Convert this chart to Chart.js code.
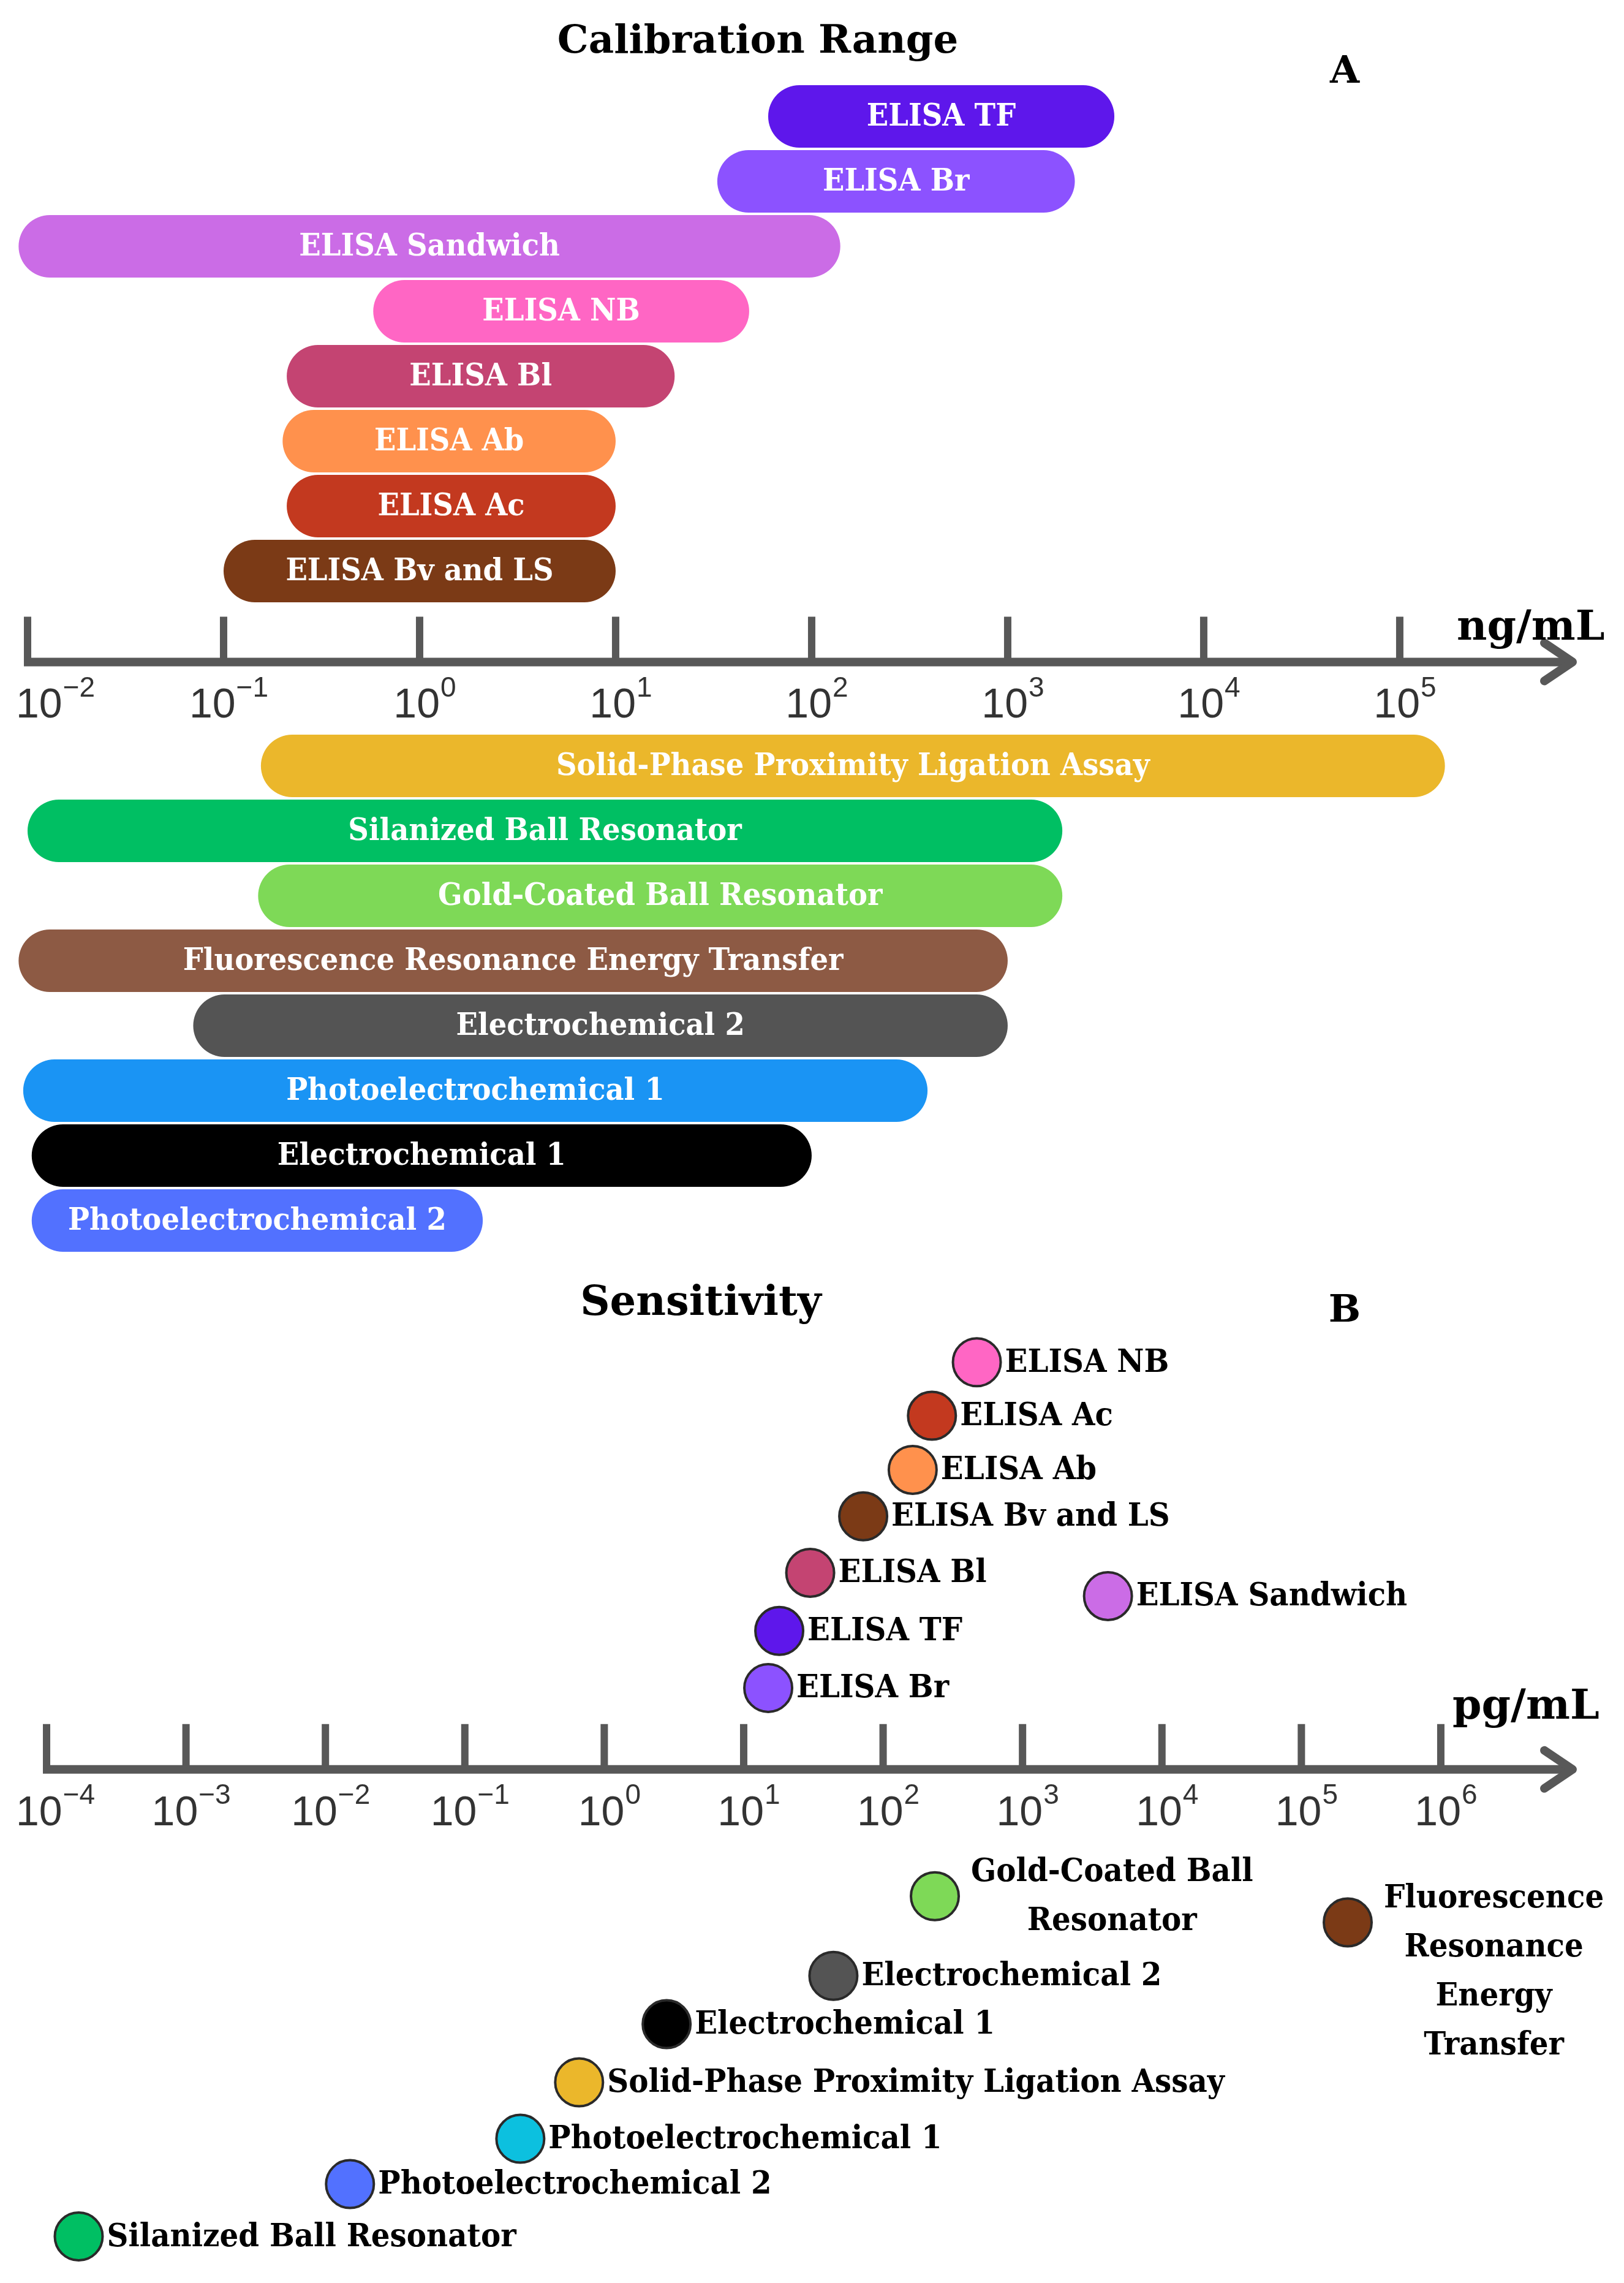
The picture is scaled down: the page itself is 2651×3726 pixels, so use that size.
<!DOCTYPE html>
<html>

<head>
    <title>Calibration Range and Sensitivity</title>
    <meta name="viewport" content="width=device-width, initial-scale=1.0">
    <script src="https://cdn.jsdelivr.net/npm/chart.js"></script>
    <style type="text/css">
        body {
            margin: 0;
            width: 2651px;
            height: 3726px;
            overflow: hidden;
            background: #fff;
            position: relative;
            font-family: "DejaVu Serif", serif;
        }

        .box {
            position: absolute;
            left: 0;
            width: 2651px;
        }

        #topBox {
            top: 0;
            height: 2045px;
        }

        #bottomBox {
            top: 2060px;
            height: 1666px;
        }

        .lbl {
            position: absolute;
            font-weight: bold;
            color: #000;
            line-height: 1;
            white-space: nowrap;
            transform: translate(-50%, -50%);
        }

        .unit {
            position: absolute;
            font-weight: bold;
            color: #000;
            line-height: 1;
            white-space: nowrap;
            transform: translate(0, -50%);
            font-size: 68px;
        }
    </style>
</head>

<body>
    <div class="box" id="topBox"><canvas id="rangeChart"></canvas></div>
    <div class="box" id="bottomBox"><canvas id="sensChart"></canvas></div>

    <div class="lbl" style="left:1237px; top:64px; font-size:64px;">Calibration Range</div>
    <div class="lbl" style="left:2195px; top:114px; font-size:62px;">A</div>
    <div class="unit" style="left:2378px; top:1020px;">ng/mL</div>

    <div class="lbl" style="left:1144px; top:2122px; font-size:67px;">Sensitivity</div>
    <div class="lbl" style="left:2195px; top:2136px; font-size:62px;">B</div>
    <div class="unit" style="left:2371px; top:2781px;">pg/mL</div>

    <script>
        // A: calibration range (ng/mL), listed top to bottom
        const aboveNames = ['ELISA TF', 'ELISA Br', 'ELISA Sandwich', 'ELISA NB', 'ELISA Bl', 'ELISA Ab', 'ELISA Ac', 'ELISA Bv and LS'];
        const aboveLow = [60, 33, 0.009, 0.58, 0.21, 0.2, 0.21, 0.1];
        const aboveHigh = [3500, 2200, 140, 48, 20, 10, 10, 10];
        const aboveColors = ['#5E17EB', '#8C52FF', '#CB6CE6', '#FF66C4', '#C44472', '#FF914D', '#C3391F', '#7B3A16'];

        const belowNames = ['Solid-Phase Proximity Ligation Assay', 'Silanized Ball Resonator', 'Gold-Coated Ball Resonator',
            'Fluorescence Resonance Energy Transfer', 'Electrochemical 2', 'Photoelectrochemical 1', 'Electrochemical 1', 'Photoelectrochemical 2'];
        const belowLow = [0.155, 0.01, 0.15, 0.009, 0.07, 0.0095, 0.0105, 0.0105];
        const belowHigh = [170000, 1900, 1900, 1000, 1000, 390, 100, 2.1];
        const belowColors = ['#EBB72B', '#00BF63', '#7ED957', '#8D5A44', '#545454', '#1A94F4', '#000000', '#5271FF'];

        const rangeExps = [-2, -1, 0, 1, 2, 3, 4, 5];

        // B: sensitivity (pg/mL)
        const sensNames = ['ELISA NB', 'ELISA Ac', 'ELISA Ab', 'ELISA Bv and LS', 'ELISA Bl', 'ELISA TF', 'ELISA Br', 'ELISA Sandwich',
            'Gold-Coated Ball\nResonator', 'Fluorescence\nResonance\nEnergy\nTransfer', 'Electrochemical 2', 'Electrochemical 1',
            'Solid-Phase Proximity Ligation Assay', 'Photoelectrochemical 1', 'Photoelectrochemical 2', 'Silanized Ball Resonator'];
        const sensValues = [470, 224, 163, 72, 30, 18, 15, 4100, 235, 215000, 44, 2.8, 0.66, 0.25, 0.015, 0.00017];
        const sensLevels = [7.0, 6.08, 5.15, 4.35, 3.38, 2.38, 1.4, 2.98, -2.18, -2.63, -3.55, -4.38, -5.38, -6.35, -7.13, -8.03];
        const sensColors = ['#FF66C4', '#C3391F', '#FF914D', '#7B3A16', '#C44472', '#5E17EB', '#8C52FF', '#CB6CE6',
            '#7ED957', '#7B3A16', '#545454', '#000000', '#EBB72B', '#0CC0DF', '#5271FF', '#00BF63'];

        const sensExps = [-4, -3, -2, -1, 0, 1, 2, 3, 4, 5, 6];

        // rows: methods above the axis, two empty rows for the axis, methods below
        const rowLabels = [...aboveNames, '', '', ...belowNames];
        const rowData = [...aboveLow.map((v, i) => [v, aboveHigh[i]]), null, null, ...belowLow.map((v, i) => [v, belowHigh[i]])];
        const rowColors = [...aboveColors, '#fff', '#fff', ...belowColors];

        const axisGray = '#585858';

        // text squeezed a little horizontally, the figure's serif is narrower than DejaVu
        function squeezeText(ctx, text, x, y, sx) {
            ctx.save();
            ctx.translate(x, y);
            ctx.scale(sx, 1);
            ctx.fillText(text, 0, 0);
            ctx.restore();
        }

        // arrow axis with ticks pointing up and 10^n labels underneath
        const arrowAxis = {
            id: 'arrowAxis',
            afterDraw(chart, args, opts) {
                const ctx = chart.ctx;
                const xs = chart.scales.x;
                const y = chart.scales.y.getPixelForValue(opts.at);
                const px = opts.exps.map(e => xs.getPixelForValue(Math.pow(10, e)));
                ctx.save();
                ctx.strokeStyle = axisGray;
                ctx.lineCap = 'butt';
                ctx.lineWidth = 12;
                px.forEach(x => {
                    ctx.beginPath();
                    ctx.moveTo(x, y);
                    ctx.lineTo(x, y - 74);
                    ctx.stroke();
                });
                ctx.lineWidth = 14;
                ctx.beginPath();
                ctx.moveTo(px[0] - 6, y);
                ctx.lineTo(opts.tip - 6, y);
                ctx.stroke();
                ctx.lineCap = 'round';
                ctx.lineJoin = 'round';
                ctx.beginPath();
                ctx.moveTo(opts.tip - 46, y - 31);
                ctx.lineTo(opts.tip, y);
                ctx.lineTo(opts.tip - 46, y + 31);
                ctx.stroke();

                ctx.fillStyle = '#333';
                ctx.textBaseline = 'middle';
                ctx.textAlign = 'left';
                opts.exps.forEach((e, i) => {
                    const sup = String(e).replace('-', '\u2212');
                    ctx.font = '68px "Liberation Sans"';
                    const wb = ctx.measureText('10').width;
                    ctx.font = '46px "Liberation Sans"';
                    const ws = ctx.measureText(sup).width;
                    // keep the first label inside the page
                    const x0 = Math.max(px[i] - (wb + ws) / 2 + 8, 26);
                    ctx.font = '68px "Liberation Sans"';
                    ctx.fillText('10', x0, y + 72);
                    ctx.font = '46px "Liberation Sans"';
                    ctx.fillText(sup, x0 + wb + 1, y + 44);
                });
                ctx.restore();
            }
        };

        // names written inside the bars
        const barText = {
            id: 'barText',
            afterDatasetsDraw(chart) {
                const ctx = chart.ctx;
                const meta = chart.getDatasetMeta(0);
                ctx.save();
                ctx.fillStyle = '#fff';
                ctx.font = 'bold 50px "DejaVu Serif"';
                ctx.textAlign = 'center';
                ctx.textBaseline = 'middle';
                meta.data.forEach((bar, i) => {
                    if (!rowLabels[i]) return;
                    squeezeText(ctx, rowLabels[i], (bar.x + bar.base) / 2, bar.y + 2, 0.93);
                });
                ctx.restore();
            }
        };

        // names written to the right of the points
        const pointText = {
            id: 'pointText',
            afterDatasetsDraw(chart) {
                const ctx = chart.ctx;
                const meta = chart.getDatasetMeta(0);
                const r = 39;
                const lineH = 80;
                const sx = 0.93;
                ctx.save();
                ctx.fillStyle = '#000';
                ctx.font = 'bold 52px "DejaVu Serif"';
                ctx.textBaseline = 'middle';
                meta.data.forEach((pt, i) => {
                    const lines = sensNames[i].split('\n');
                    if (lines.length === 1) {
                        ctx.textAlign = 'left';
                        squeezeText(ctx, lines[0], pt.x + r + 7, pt.y + 2, sx);
                    } else {
                        const w = Math.max(...lines.map(s => ctx.measureText(s).width)) * sx;
                        const cx = pt.x + r + 20 + w / 2;
                        ctx.textAlign = 'center';
                        lines.forEach((s, k) => squeezeText(ctx, s, cx, pt.y - lineH / 2 + k * lineH + 2, sx));
                    }
                });
                ctx.restore();
            }
        };

        new Chart(document.getElementById('rangeChart'), {
            type: 'bar',
            data: {
                labels: rowLabels,
                datasets: [{
                    data: rowData,
                    backgroundColor: rowColors,
                    borderRadius: 60,
                    borderSkipped: false,
                    categoryPercentage: 1,
                    barPercentage: 0.96
                }]
            },
            options: {
                indexAxis: 'y',
                responsive: true,
                maintainAspectRatio: false,
                devicePixelRatio: 1,
                animation: false,
                events: [],
                layout: { autoPadding: false, padding: { top: 137, left: 0, right: 0, bottom: 0 } },
                scales: {
                    x: { type: 'logarithmic', display: false, min: Math.pow(10, -2.1406), max: Math.pow(10, 6.144) },
                    y: { type: 'category', display: false }
                },
                plugins: {
                    legend: { display: false },
                    tooltip: { enabled: false },
                    arrowAxis: { at: 8.4, exps: rangeExps, tip: 2567 }
                }
            },
            plugins: [barText, arrowAxis]
        });

        new Chart(document.getElementById('sensChart'), {
            type: 'scatter',
            data: {
                datasets: [{
                    data: sensValues.map((v, i) => ({ x: v, y: sensLevels[i] })),
                    pointRadius: 39,
                    pointBackgroundColor: sensColors,
                    pointBorderColor: '#2a2a2a',
                    pointBorderWidth: 4,
                    clip: false
                }]
            },
            options: {
                responsive: true,
                maintainAspectRatio: false,
                devicePixelRatio: 1,
                animation: false,
                events: [],
                layout: { autoPadding: false, padding: 0 },
                scales: {
                    x: { type: 'logarithmic', display: false, min: Math.pow(10, -4.334), max: Math.pow(10, 7.314) },
                    y: { type: 'linear', display: false, min: -8.83, max: 8.72 }
                },
                plugins: {
                    legend: { display: false },
                    tooltip: { enabled: false },
                    arrowAxis: { at: 0, exps: sensExps, tip: 2567 }
                }
            },
            plugins: [pointText, arrowAxis]
        });
    </script>
</body>

</html>
